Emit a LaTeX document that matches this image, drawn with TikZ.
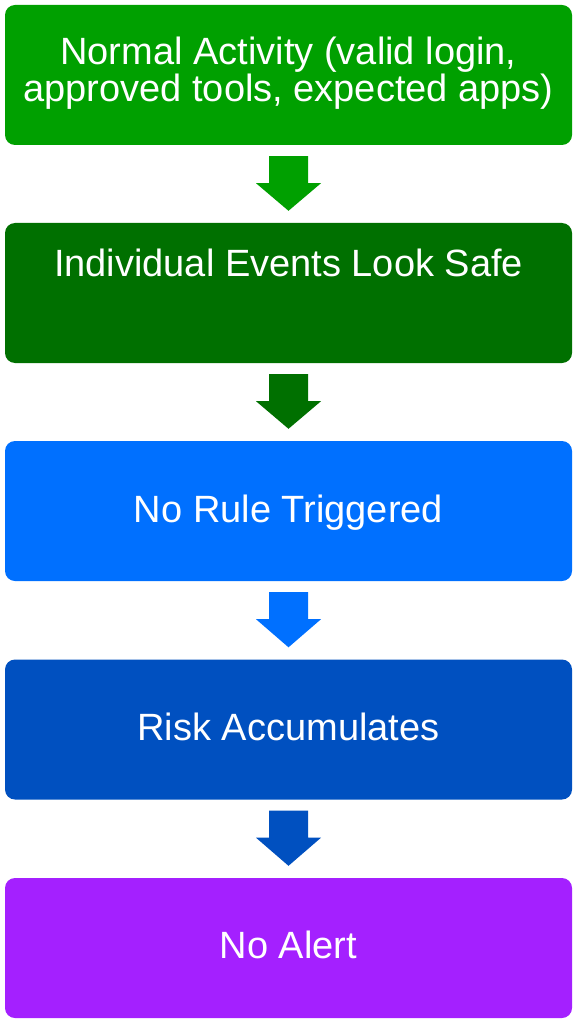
\documentclass[tikz,border=0pt]{standalone}
\usepackage{fontspec}
\setmainfont{Liberation Sans}
\usetikzlibrary{calc}
\definecolor{cA}{RGB}{0,160,0}
\definecolor{cB}{RGB}{0,112,0}
\definecolor{cC}{RGB}{0,112,255}
\definecolor{cD}{RGB}{0,80,192}
\definecolor{cE}{RGB}{164,32,255}
\tikzset{
  box/.style={draw=none, rounded corners=10pt, minimum width=567pt, minimum height=140pt, inner sep=0pt},
  txt/.style={text=white, align=center, inner sep=0pt, anchor=base, font=\fontsize{38}{37}\selectfont}
}
\newcommand\flowarrow[3]{%
  \path (#1.south) ++(0,11) coordinate (#1s);
  \path (#2.north) ++(0,-12) coordinate (#1t);
  \fill[#3] ($(#1s)+(-19.5,0)$) -- ($(#1s)+(19.5,0)$) -- ($(#1s)+(19.5,27)$) -- ($(#1s)+(32.5,27)$) -- (#1t) -- ($(#1s)+(-32.5,27)$) -- ($(#1s)+(-19.5,27)$) -- cycle;
}
\begin{document}
\begin{tikzpicture}[x=1pt,y=-1pt]
\useasboundingbox (0,0) rectangle (578,1024);
\fill[white] (0,0) rectangle (578,1024);
\node[box, fill=cA] (b1) at (288.5,75) {};
\node[box, fill=cB] (b2) at (288.5,293) {};
\node[box, fill=cC] (b3) at (288.5,511) {};
\node[box, fill=cD] (b4) at (288.5,729.5) {};
\node[box, fill=cE] (b5) at (288.5,948) {};
\node[txt] (t1) at (288.5,102) {Normal Activity (valid login,\\approved tools, expected apps)};
\node[txt] (t2) at (288.5,276) {Individual Events Look Safe};
\node[txt] (t3) at (288.5,522) {No Rule Triggered};
\node[txt] (t4) at (288.5,740) {Risk Accumulates};
\node[txt] (t5) at (288.5,958) {No Alert};
\flowarrow{b1}{b2}{cA}
\flowarrow{b2}{b3}{cB}
\flowarrow{b3}{b4}{cC}
\flowarrow{b4}{b5}{cD}
\end{tikzpicture}
\end{document}
